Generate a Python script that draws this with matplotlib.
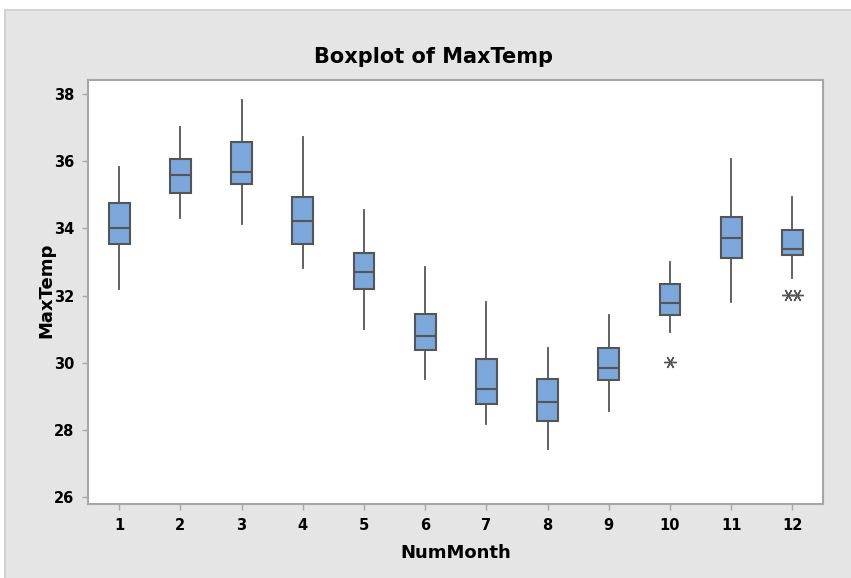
import matplotlib
matplotlib.use("Agg")
import matplotlib.pyplot as plt
from matplotlib.patches import Rectangle

# Monthly maximum temperature summary (five-number summary per month)
months = [1, 2, 3, 4, 5, 6, 7, 8, 9, 10, 11, 12]
whisker_low = [32.2, 34.3, 34.12, 32.83, 31.0, 29.51, 28.17, 27.42, 28.57, 30.90, 31.80, 32.52]
q1 = [33.52, 35.05, 35.33, 33.52, 32.20, 30.39, 28.78, 28.27, 29.48, 31.42, 33.12, 33.20]
median = [34.0, 35.6, 35.69, 34.23, 32.70, 30.78, 29.22, 28.82, 29.84, 31.77, 33.71, 33.40]
q3 = [34.75, 36.08, 36.58, 34.93, 33.27, 31.45, 30.11, 29.51, 30.43, 32.33, 34.35, 33.95]
whisker_high = [35.84, 37.03, 37.82, 36.71, 34.54, 32.84, 31.82, 30.44, 31.42, 33.01, 36.08, 34.93]
outliers = {10: [30.02], 12: [32.02, 32.02]}

box_face = "#7ba7db"
edge = "#555555"

fig = plt.figure(figsize=(8.51, 5.78), dpi=100)
fig.patch.set_facecolor("white")
fig.patches.append(Rectangle((5 / 851, -0.05), 1.05, 1.05 - 10 / 578, transform=fig.transFigure,
                             facecolor="#e5e5e5", edgecolor="#cdcdcd", linewidth=1.2,
                             zorder=-10))

ax = fig.add_axes([88 / 851, 1 - 504 / 578, (823 - 88) / 851, (504 - 80) / 578])
ax.set_facecolor("white")

stats = []
for i, m in enumerate(months):
    stats.append(dict(label=str(m), whislo=whisker_low[i], q1=q1[i], med=median[i],
                      q3=q3[i], whishi=whisker_high[i], fliers=[]))

ax.bxp(stats, positions=months, widths=0.34, patch_artist=True, showfliers=False,
       showcaps=False,
       boxprops=dict(facecolor=box_face, edgecolor=edge, linewidth=1.5),
       medianprops=dict(color=edge, linewidth=1.5),
       whiskerprops=dict(color=edge, linewidth=1.3))

# Outliers drawn as asterisks; repeated values are placed side by side
for m, vals in outliers.items():
    n = len(vals)
    for k, v in enumerate(vals):
        xo = m + (k - (n - 1) / 2) * 0.16
        ax.plot(xo, v, marker=(6, 2, 90), markersize=9, color=edge,
                markeredgewidth=1.0, linestyle="none")

ax.set_xlim(0.49, 12.5)
ax.set_ylim(25.79, 38.42)
ax.set_yticks([26, 28, 30, 32, 34, 36, 38])
ax.set_xticks(months)
ax.set_xticklabels([str(m) for m in months])

for s in ax.spines.values():
    s.set_color("#a6a6a6")
    s.set_linewidth(1.5)

ax.tick_params(axis="both", direction="out", length=4, width=1, color="#a6a6a6",
               labelsize=10.5, pad=6)
for lbl in ax.get_xticklabels() + ax.get_yticklabels():
    lbl.set_fontweight("bold")

fig.text(434 / 851, 1 - 57 / 578, "Boxplot of MaxTemp", ha="center", va="center",
         fontsize=15, fontweight="bold")
fig.text(456 / 851, 1 - 553 / 578, "NumMonth", ha="center", va="center",
         fontsize=13, fontweight="bold")
fig.text(46 / 851, 1 - 290 / 578, "MaxTemp", ha="center", va="center",
         fontsize=13, fontweight="bold", rotation=90)

fig.savefig("out.png", dpi=100)
